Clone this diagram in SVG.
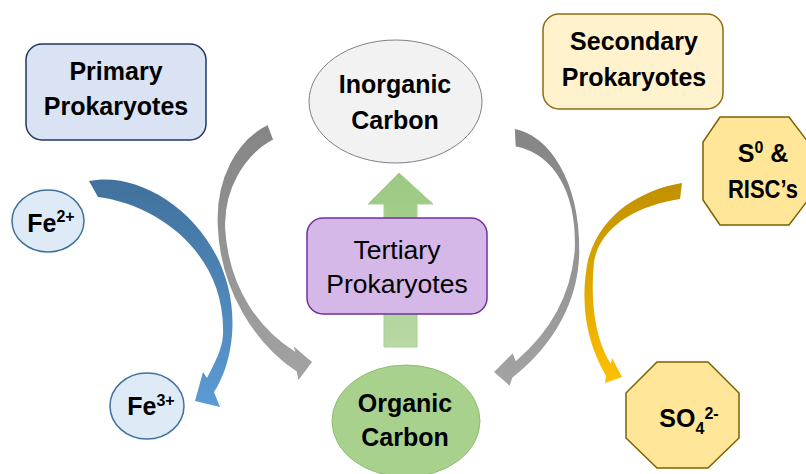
<svg xmlns="http://www.w3.org/2000/svg" width="806" height="474" viewBox="0 0 806 474">
<defs>
<linearGradient id="gBlue" x1="0" y1="0" x2="0" y2="1"><stop offset="0" stop-color="#41719c"/><stop offset="1" stop-color="#5b9bd5"/></linearGradient>
<linearGradient id="gGold" x1="0" y1="0" x2="0" y2="1"><stop offset="0" stop-color="#bf9000"/><stop offset="1" stop-color="#ffc000"/></linearGradient>
<linearGradient id="gGray" x1="0" y1="0" x2="0" y2="1"><stop offset="0" stop-color="#858585"/><stop offset="1" stop-color="#a3a3a3"/></linearGradient>
<linearGradient id="gGreen" x1="0" y1="0" x2="0" y2="1"><stop offset="0" stop-color="#9cc982"/><stop offset="1" stop-color="#b8d8a4"/></linearGradient>
</defs>
<style>
.b{font-family:"Liberation Sans",Arial,sans-serif;font-weight:bold;font-size:25px;fill:#000;text-anchor:middle}
.r{font-family:"Liberation Sans",Arial,sans-serif;font-size:26.5px;fill:#000;text-anchor:middle}
.sup{font-size:16px}
.gray{fill:url(#gGray);stroke:#fff;stroke-width:1.5}
</style>
<rect width="806" height="474" fill="#fff"/>
<g id="connectors">
<path id="blue-arrow" fill="url(#gBlue)" d="M89,181 C150,168 240,235 232,335 C230,360 222,380 214,392 L220,407 L195,401 L203,372 L207,378 C215,362 222,350 223,335 C226,255 160,205 98,197 Z"/>
<path id="gold-arrow" fill="url(#gGold)" d="M682,183 C640,190 600,215 588,260 C580,300 585,340 606,376 L605,383 L622,377 L612,358 L611,364 C595,340 590,300 594,262 C600,225 640,205 680,199 Z"/>
<path id="gray-left" class="gray" d="M268,124 C235,140 215,180 217,225 C219,290 255,345 296,372 L298,382 L313,362 L292,344 L294,350 C262,330 230,290 226,230 C224,190 245,155 274,140 Z"/>
<path id="gray-right" class="gray" d="M514,128 C550,135 580,180 580,250 C580,300 555,345 513,378 L510,387 L493,372 L513,352 L516,360 C545,335 570,300 574,250 C576,195 555,155 515,147 Z"/>
<path id="green-arrow" fill="url(#gGreen)" stroke="#a9d18e" stroke-width="1" d="M399,173 L433,204 L417,204 L417,347 L384,347 L384,204 L368,204 Z"/>
</g>
<g id="primary">
<rect x="26" y="44" width="180" height="96" rx="16" fill="#dae3f3" stroke="#203864" stroke-width="1.5"/>
<text class="b" x="116" y="80">Primary</text>
<text class="b" x="116" y="115">Prokaryotes</text>
</g>
<g id="secondary">
<rect x="543" y="14" width="180" height="95" rx="16" fill="#fff2cc" stroke="#8f6d10" stroke-width="1.5"/>
<text class="b" x="634" y="50">Secondary</text>
<text class="b" x="634" y="86">Prokaryotes</text>
</g>
<g id="inorganic">
<ellipse cx="395.5" cy="101.5" rx="86.5" ry="61.5" fill="#f2f2f2" stroke="#7f7f7f" stroke-width="1"/>
<text class="b" x="395" y="93">Inorganic</text>
<text class="b" x="395" y="129">Carbon</text>
</g>
<g id="tertiary">
<rect x="307" y="218" width="180" height="96" rx="16" fill="#d5b8e8" stroke="#7030a0" stroke-width="1.5"/>
<text class="r" x="397" y="259">Tertiary</text>
<text class="r" x="397" y="293">Prokaryotes</text>
</g>
<g id="organic">
<ellipse cx="406" cy="421" rx="74" ry="56" fill="#a9d18e" stroke="#8cbd6c" stroke-width="1"/>
<text class="b" x="405" y="412">Organic</text>
<text class="b" x="405" y="446">Carbon</text>
</g>
<g id="fe2">
<ellipse cx="48" cy="221" rx="36" ry="31" fill="#deebf7" stroke="#41719c" stroke-width="1.5"/>
<text class="b" x="51" y="232">Fe<tspan class="sup" dy="-10">2+</tspan></text>
</g>
<g id="fe3">
<ellipse cx="147" cy="406" rx="37" ry="33" fill="#deebf7" stroke="#41719c" stroke-width="1.5"/>
<text class="b" x="151" y="415">Fe<tspan class="sup" dy="-9">3+</tspan></text>
</g>
<g id="s0">
<polygon points="720,117 789,117 808,142 808,200 789,225 720,225 703,200 703,142" fill="#ffe699" stroke="#7f6000" stroke-width="1.5"/>
<text class="b" x="763" y="162">S<tspan class="sup" dy="-9">0</tspan><tspan dy="9"> &amp;</tspan></text>
<text class="b" x="763" y="198" textLength="70" lengthAdjust="spacingAndGlyphs">RISC’s</text>
</g>
<g id="so4">
<polygon points="657,362 708,362 739,393 739,438 708,468 657,468 626,438 626,393" fill="#ffe699" stroke="#7f6000" stroke-width="1.5"/>
<text class="b" x="689" y="427">SO<tspan class="sup" dy="7">4</tspan><tspan class="sup" dy="-15">2-</tspan></text>
</g>
</svg>
